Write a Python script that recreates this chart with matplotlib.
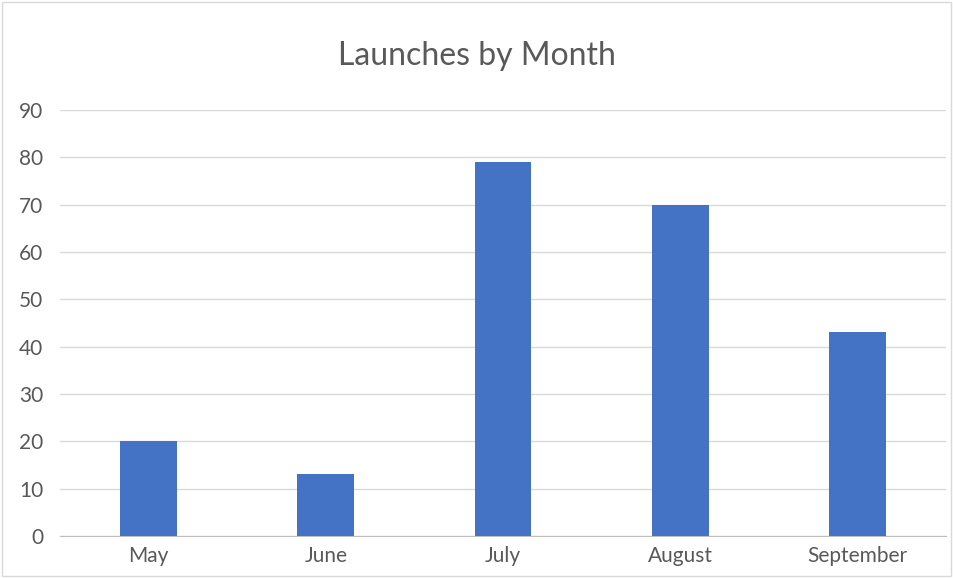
import matplotlib.pyplot as plt
from matplotlib.patches import Rectangle

# --- DATA ---
months = ['May', 'June', 'July', 'August', 'September']
launches = [20, 13, 79, 70, 43]
y_ticks = list(range(0, 100, 10))

plt.rcParams['font.family'] = ['Lato', 'DejaVu Sans']

fig = plt.figure(figsize=(9.54, 5.78), dpi=100)
ax = fig.add_axes([0.0629, 0.0727, 0.9287, 0.737])

x = range(len(months))
ax.bar(x, launches, width=0.32, color='#4472c4', zorder=3)

ax.set_xlim(-0.5, len(months) - 0.5)
ax.set_ylim(0, 90)
ax.set_yticks(y_ticks)
ax.set_xticks(list(x))
ax.set_xticklabels(months)

ax.grid(axis='y', color='#d9d9d9', lw=1, zorder=0)
for side in ['top', 'right', 'left']:
    ax.spines[side].set_visible(False)
ax.spines['bottom'].set_color('#bfbfbf')
ax.tick_params(axis='both', length=0, labelsize=15, colors='#595959')
ax.tick_params(axis='y', pad=12)
ax.tick_params(axis='x', pad=7)

fig.text(0.5, 0.903, 'Launches by Month', ha='center', va='center',
         fontsize=23, color='#595959')

# light frame around the chart
fig.patches.append(Rectangle((0.002, 0.003), 0.995, 0.994, transform=fig.transFigure,
                             fill=False, edgecolor='#d9d9d9', lw=1))

plt.savefig('out.png', dpi=100, facecolor='white')
